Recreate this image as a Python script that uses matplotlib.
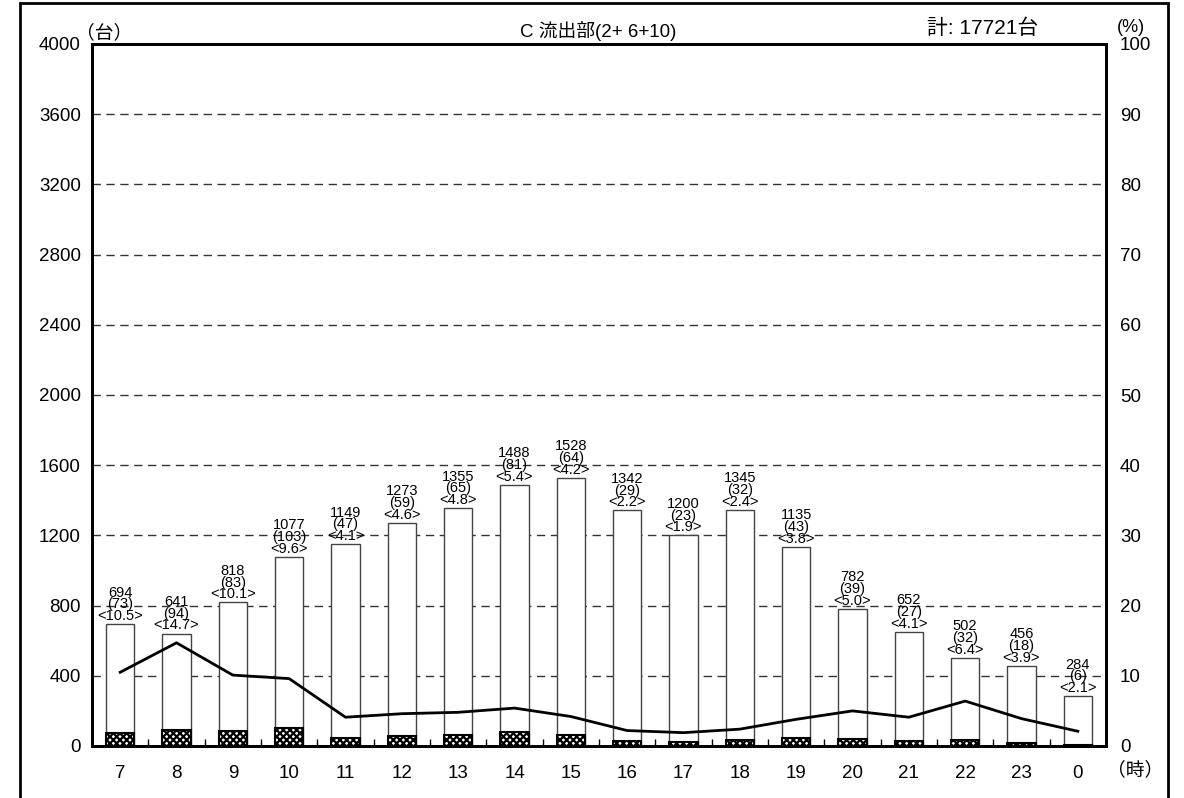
"""Hourly traffic volume chart: C outflow (2+6+10)."""

import matplotlib

matplotlib.use("Agg")
import matplotlib.pyplot as plt
from matplotlib.patches import Rectangle
import numpy as np

plt.rcParams["font.family"] = ["Liberation Sans", "Noto Sans CJK JP", "DejaVu Sans"]
plt.rcParams["hatch.linewidth"] = 1.6

hours = ["7", "8", "9", "10", "11", "12", "13", "14", "15",
         "16", "17", "18", "19", "20", "21", "22", "23", "0"]
total = [694, 641, 818, 1077, 1149, 1273, 1355, 1488, 1528,
         1342, 1200, 1345, 1135, 782, 652, 502, 456, 284]
large = [73, 94, 83, 103, 47, 59, 65, 81, 64,
         29, 23, 32, 43, 39, 27, 32, 18, 6]
ratio = [10.5, 14.7, 10.1, 9.6, 4.1, 4.6, 4.8, 5.4, 4.2,
         2.2, 1.9, 2.4, 3.8, 5.0, 4.1, 6.4, 3.9, 2.1]
left_ticks = list(range(0, 4001, 400))
right_ticks = list(range(0, 101, 10))

W, H = 1184, 798
fig = plt.figure(figsize=(W / 100, H / 100), dpi=100)
ax = fig.add_axes([92 / W, 1 - 746 / H, (1106 - 92) / W, (746 - 44) / H])

x = np.arange(len(hours))
ax.bar(x, total, 0.5, color="white", edgecolor="#444444", linewidth=1.0, zorder=2)
ax.bar(x, large, 0.5, color="white", edgecolor="black", hatch="xxxxx",
       linewidth=1.5, zorder=3)

for xi, t, lg, r in zip(x, total, large, ratio):
    ax.text(xi, t + 6, f"{t}\n({lg})\n<{r:.1f}>", ha="center", va="bottom",
            fontsize=10.5, linespacing=0.8, zorder=4)

ax.set_xlim(-0.5, len(hours) - 0.5)
ax.set_ylim(0, 4000)
for v in left_ticks[1:-1]:
    ax.axhline(v, color="#333333", linestyle=(0, (6, 4)), linewidth=1.0, zorder=1)

ax.set_xticks(x)
ax.set_xticklabels(hours, fontsize=13.5)
ax.set_xticks(x[:-1] + 0.5, minor=True)
ax.tick_params(axis="x", which="major", length=0, pad=14)
ax.tick_params(axis="x", which="minor", direction="in", length=5, width=1)
ax.set_yticks(left_ticks)
ax.set_yticklabels([str(v) for v in left_ticks], fontsize=13.5)
ax.tick_params(axis="y", length=0, pad=8)
for s in ax.spines.values():
    s.set_linewidth(2)

ax2 = ax.twinx()
ax2.plot(x, ratio, color="black", linewidth=2, zorder=5)
ax2.set_ylim(0, 100)
ax2.set_yticks(right_ticks)
ax2.set_yticklabels([str(v) for v in right_ticks], fontsize=13.5)
ax2.tick_params(axis="y", length=0, pad=10)
for s in ax2.spines.values():
    s.set_linewidth(2)
ax2.set_xlim(-0.5, len(hours) - 0.5)

fig.text(104 / W, 1 - 33 / H, "（台）", fontsize=13.5, ha="center", va="center")
fig.text(598 / W, 1 - 31 / H, "C 流出部(2+ 6+10)", fontsize=13.5, ha="center", va="center")
fig.text(983 / W, 1 - 28 / H, "計: 17721台", fontsize=15, ha="center", va="center")
fig.text(1131 / W, 1 - 28 / H, "(%)", fontsize=13, ha="center", va="center")
fig.text(1135 / W, 1 - 770 / H, "（時）", fontsize=13.5, ha="center", va="center")

fig.add_artist(Rectangle((20 / W, -0.1), (1168 - 20) / W, 1.1 - 3 / H,
                         transform=fig.transFigure, fill=False,
                         edgecolor="black", linewidth=2))

fig.savefig("out.png", dpi=100)
